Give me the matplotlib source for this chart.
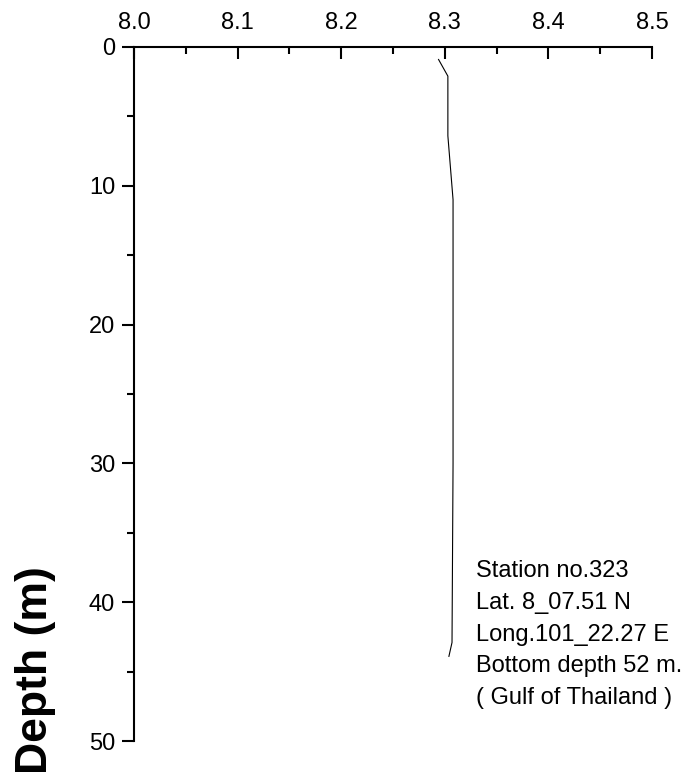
import matplotlib
matplotlib.use('Agg')
import matplotlib.pyplot as plt
from matplotlib.ticker import MultipleLocator

plt.rcParams['font.family'] = ['Liberation Sans', 'DejaVu Sans']

# pH profile
depth = [0.9, 2.1, 6.4, 11.0, 20.0, 30.0, 42.9, 43.9]
ph = [8.294, 8.303, 8.303, 8.308, 8.308, 8.308, 8.307, 8.304]

station_info = ["Station no.323", "Lat. 8_07.51 N", "Long.101_22.27 E",
                "Bottom depth 52 m.", "( Gulf of Thailand )"]

fig = plt.figure(figsize=(6.87, 7.74), dpi=100)
ax = fig.add_axes([0.195, 0.0426, 0.754, 0.8967])

ax.plot(ph, depth, color='black', linewidth=0.8)

ax.set_xlim(8.0, 8.5)
ax.set_ylim(50, 0)
ax.xaxis.set_major_locator(MultipleLocator(0.1))
ax.xaxis.set_minor_locator(MultipleLocator(0.05))
ax.yaxis.set_major_locator(MultipleLocator(10))
ax.yaxis.set_minor_locator(MultipleLocator(5))
ax.xaxis.set_major_formatter(plt.FormatStrFormatter('%.1f'))

ax.xaxis.tick_top()
ax.spines['right'].set_visible(False)
ax.spines['bottom'].set_visible(False)
ax.spines['top'].set_linewidth(1.5)
ax.spines['left'].set_linewidth(1.5)

ax.tick_params(axis='x', which='both', direction='in', top=True, bottom=False,
               labelsize=17, pad=9, width=1.5)
ax.tick_params(axis='x', which='major', length=8.5)
ax.tick_params(axis='x', which='minor', length=5)
ax.tick_params(axis='y', which='both', direction='out', labelsize=17, pad=5, width=1.5)
ax.tick_params(axis='y', which='major', length=8.5)
ax.tick_params(axis='y', which='minor', length=5)

ax.text(8.330, 36.95, "\n".join(station_info), fontsize=17, va='top', ha='left',
        linespacing=1.58)

fig.text(0.051, 0.134, "Depth (m)", rotation=90, fontsize=32, fontweight='bold',
         ha='center', va='center')

fig.savefig('out.png', dpi=100)
